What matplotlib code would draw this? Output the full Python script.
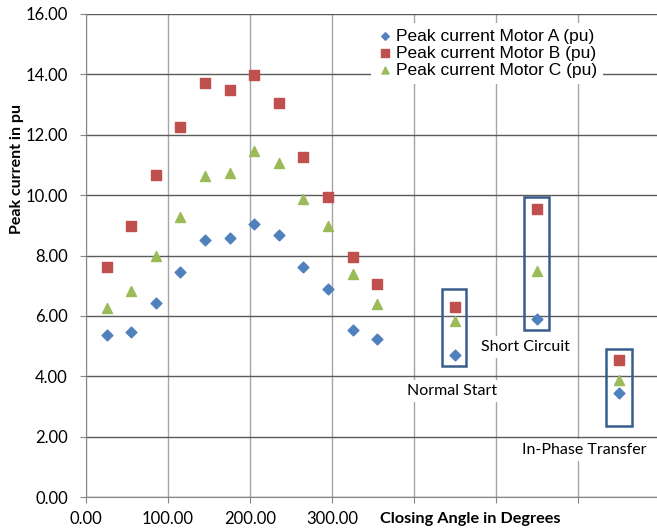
import matplotlib
matplotlib.use("Agg")
import matplotlib.pyplot as plt
from matplotlib.patches import Rectangle

# closing angles (deg); last three are the special cases
angle = [25, 55, 85, 115, 145, 175, 205, 235, 265, 295, 325, 355, 450, 550, 650]
motor_a = [5.36, 5.46, 6.44, 7.44, 8.53, 8.59, 9.04, 8.68, 7.63, 6.90, 5.54, 5.22, 4.69, 5.90, 3.44]
motor_b = [7.61, 8.98, 10.68, 12.27, 13.71, 13.47, 13.97, 13.06, 11.25, 9.94, 7.96, 7.04, 6.28, 9.55, 4.55]
motor_c = [6.27, 6.81, 8.00, 9.26, 10.62, 10.74, 11.45, 11.05, 9.87, 8.99, 7.38, 6.38, 5.84, 7.49, 3.89]

# boxes around the special cases: (x0, x1, y0, y1)
boxes = [(434, 463, 4.33, 6.90), (534, 565, 5.53, 9.95), (634, 666, 2.35, 4.91)]
notes = [("Normal Start", 446, 3.51), ("Short Circuit", 536, 4.97), ("In-Phase Transfer", 608, 1.56)]

xticks = [0, 100, 200, 300, 400, 500, 600]
xlabels = ["0.00", "100.00", "200.00", "300.00", "", "", ""]
yticks = [0, 2, 4, 6, 8, 10, 12, 14, 16]

fig = plt.figure(figsize=(6.57, 5.31), dpi=100)
ax = fig.add_axes([86/657, 34/531, 574/657, 483/531])

ax.scatter(angle, motor_a, marker="D", s=30, color="#4F81BD", zorder=3, label="Peak current Motor A (pu)")
ax.scatter(angle, motor_b, marker="s", s=52, color="#C0504D", zorder=3, label="Peak current Motor B (pu)")
ax.scatter(angle, motor_c, marker="^", s=52, color="#9BBB59", zorder=3, label="Peak current Motor C (pu)")

for x0, x1, y0, y1 in boxes:
    ax.add_patch(Rectangle((x0, y0), x1 - x0, y1 - y0, fill=False, edgecolor="#385D8A", lw=1.8, zorder=4))

for txt, x, y in notes:
    ax.text(x, y, txt, ha="center", va="center", fontsize=11.5, family="Lato", zorder=5,
            bbox=dict(facecolor="white", edgecolor="none", pad=3))

ax.set_xlim(0, 700)
ax.set_ylim(0, 16)
ax.set_xticks(xticks)
ax.set_xticklabels(xlabels)
ax.set_yticks(yticks)
ax.set_yticklabels([f"{v:.2f}" for v in yticks])
ax.tick_params(axis="both", length=4, color="#868686", labelsize=12, labelfontfamily="Lato")
ax.tick_params(axis="y", pad=9)
ax.tick_params(axis="x", pad=6)

ax.grid(axis="y", color="#5a5a5a", lw=1.0, zorder=0)
ax.grid(axis="x", color="#a6a6a6", lw=1.0, zorder=0)
ax.set_axisbelow(True)
for side in ["top", "right"]:
    ax.spines[side].set_visible(False)
for side in ["left", "bottom"]:
    ax.spines[side].set_color("#868686")

leg = ax.legend(loc="upper left", bbox_to_anchor=(362/657, 1 - 14/531), bbox_transform=fig.transFigure,
                frameon=True, fancybox=False, edgecolor="none", facecolor="white", framealpha=1,
                prop={"family": "Liberation Sans", "size": 12.5}, handletextpad=0.1, handlelength=1.0,
                labelspacing=0.1, borderpad=0.35, markerscale=0.7)
leg.set_zorder(6)

fig.text(17/657, 1 - 169/531, "Peak current in pu", rotation=90, ha="center", va="center",
         fontsize=11.5, fontweight="bold", family="Lato")
fig.text(470/657, 1 - 519/531, "Closing Angle in Degrees", ha="center", va="center",
         fontsize=11.7, fontweight="bold", family="Lato")

fig.savefig("out.png", dpi=100)
